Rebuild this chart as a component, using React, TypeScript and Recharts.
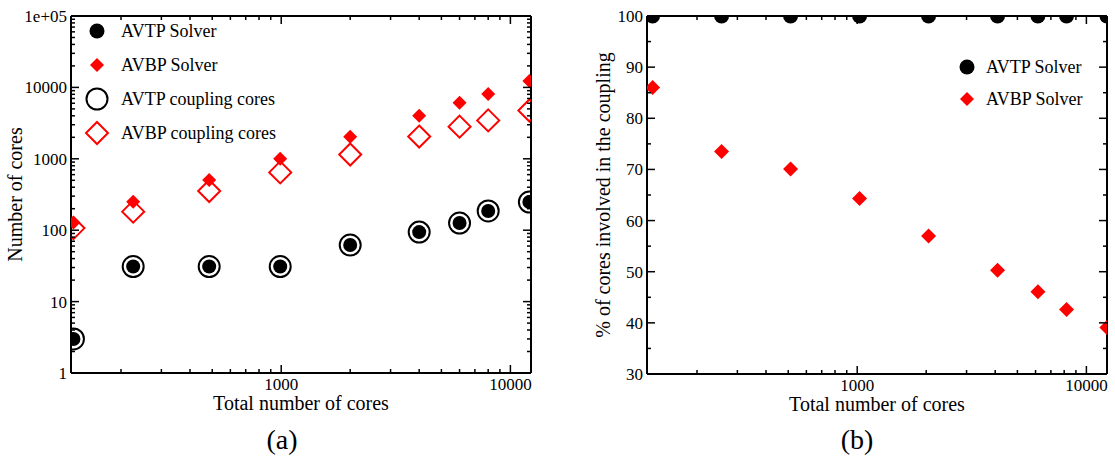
import { ScatterChart, Scatter, XAxis, YAxis, ReferenceLine, Legend } from 'recharts'

const FONT = '"Liberation Serif", "Times New Roman", serif'

// (a) cores vs total number of cores
const TOTAL_CORES_A = [124, 226, 485, 990, 2000, 4000, 6000, 8000, 12100]
const AVTP_SOLVER = [3, 31, 31, 31, 62, 94, 126, 186, 248]
const AVBP_SOLVER = [128, 250, 505, 1000, 2040, 4000, 6100, 8100, 12300]
const AVTP_COUPLING = [3, 31, 31, 31, 62, 94, 126, 186, 248]
const AVBP_COUPLING = [107, 182, 354, 645, 1150, 2050, 2820, 3450, 4750]

// (b) % of cores in the coupling
const TOTAL_CORES_B = [128, 256, 512, 1024, 2048, 4096, 6144, 8192, 12288]
const AVTP_PCT = [100, 100, 100, 100, 100, 100, 100, 100, 100]
const AVBP_PCT = [86, 73.5, 70.1, 64.3, 57, 50.3, 46.1, 42.6, 39.1]

const SERIES_ORDER = ['AVTP Solver', 'AVBP Solver', 'AVTP coupling cores', 'AVBP coupling cores']

const X_DOMAIN = [121, 12300]
const X_TICKS = [200, 300, 400, 500, 600, 700, 800, 900, 1000, 2000, 3000, 4000, 5000, 6000, 7000, 8000, 9000, 10000]
const X_MAJORS = [1000, 10000]
const Y_TICKS_A = [
  1, 2, 3, 4, 5, 6, 7, 8, 9,
  10, 20, 30, 40, 50, 60, 70, 80, 90,
  100, 200, 300, 400, 500, 600, 700, 800, 900,
  1000, 2000, 3000, 4000, 5000, 6000, 7000, 8000, 9000,
  10000, 20000, 30000, 40000, 50000, 60000, 70000, 80000, 90000,
  100000,
]
const Y_MAJORS_A = [1, 10, 100, 1000, 10000, 100000]
const Y_TICKS_B = [30, 35, 40, 45, 50, 55, 60, 65, 70, 75, 80, 85, 90, 95, 100]
const Y_MAJORS_B = [30, 40, 50, 60, 70, 80, 90, 100]

const zip = (xs: number[], ys: number[]) => xs.map((x, i) => ({ x, y: ys[i] }))

// layout of the two panels (plot boxes)
const H = 464
const TOP = 16
const A = { width: 560, left: 71, right: 531, bottom: 373 }
const B = { width: 555, left: 87, right: 547, bottom: 374 }
const Y_AXIS_W = 60
const X_AXIS_H = 40

const fmtA = (v: number) => (v === 100000 ? '1e+05' : String(v))

const makeXTick = (top: number) => (props: any) => {
  const { x, y, payload } = props
  const v = payload.value
  const major = X_MAJORS.includes(v)
  const len = major ? 8 : 4
  return (
    <g>
      <line x1={x} x2={x} y1={y} y2={y - len} stroke="#000" strokeWidth={1.5} />
      <line x1={x} x2={x} y1={top} y2={top + len} stroke="#000" strokeWidth={1.5} />
      {major && (
        <text x={x} y={y + 17} textAnchor="middle" fontSize={17} fontFamily={FONT} fill="#000">
          {v}
        </text>
      )}
    </g>
  )
}

const makeYTick = (right: number, majors: number[], fmt: (v: number) => string) => (props: any) => {
  const { x, y, payload } = props
  const v = payload.value
  const major = majors.includes(v)
  const len = major ? 8 : 4
  return (
    <g>
      <line x1={x} x2={x + len} y1={y} y2={y} stroke="#000" strokeWidth={1.5} />
      <line x1={right} x2={right - len} y1={y} y2={y} stroke="#000" strokeWidth={1.5} />
      {major && (
        <text x={x - 4} y={y + 6} textAnchor="end" fontSize={17} fontFamily={FONT} fill="#000">
          {fmt(v)}
        </text>
      )}
    </g>
  )
}

const xTitle = (text: string) => (props: any) => {
  const { x, y, width } = props.viewBox
  return (
    <text x={x + width / 2} y={y + 37} textAnchor="middle" fontSize={20} fontFamily={FONT} fill="#000">
      {text}
    </text>
  )
}

const yTitle = (text: string, cx: number) => (props: any) => {
  const { y, height } = props.viewBox
  const cy = y + height / 2
  return (
    <text x={cx} y={cy} transform={`rotate(-90, ${cx}, ${cy})`} textAnchor="middle" fontSize={20} fontFamily={FONT} fill="#000">
      {text}
    </text>
  )
}

// marker shapes
const filledCircle = (r: number) => (p: any) => <circle cx={p.cx} cy={p.cy} r={r} fill="#000" />
const openCircle = (r: number) => (p: any) => <circle cx={p.cx} cy={p.cy} r={r} fill="none" stroke="#000" strokeWidth={2} />
const diamondPts = (cx: number, cy: number, h: number) => `${cx},${cy - h} ${cx + h},${cy} ${cx},${cy + h} ${cx - h},${cy}`
const filledDiamond = (h: number) => (p: any) => <polygon points={diamondPts(p.cx, p.cy, h)} fill="#ff0000" />
const openDiamond = (h: number) => (p: any) => (
  <polygon points={diamondPts(p.cx, p.cy, h)} fill="none" stroke="#ff0000" strokeWidth={2} />
)

const LEGEND_ICONS: Record<string, (cx: number, cy: number) => any> = {
  'AVTP Solver': (cx, cy) => <circle cx={cx} cy={cy} r={7.5} fill="#000" />,
  'AVBP Solver': (cx, cy) => <polygon points={diamondPts(cx, cy, 7)} fill="#ff0000" />,
  'AVTP coupling cores': (cx, cy) => <circle cx={cx} cy={cy} r={10.5} fill="none" stroke="#000" strokeWidth={2} />,
  'AVBP coupling cores': (cx, cy) => <polygon points={diamondPts(cx, cy, 11)} fill="none" stroke="#ff0000" strokeWidth={2} />,
}

const makeLegend = (rowH: number, iconW: number) => (props: any) => {
  const items = [...(props.payload || [])].sort(
    (a: any, b: any) => SERIES_ORDER.indexOf(a.value) - SERIES_ORDER.indexOf(b.value)
  )
  return (
    <div style={{ fontFamily: FONT, fontSize: 18, color: '#000' }}>
      {items.map((entry: any) => (
        <div key={entry.value} style={{ display: 'flex', alignItems: 'center', height: rowH }}>
          <svg width={iconW} height={rowH} style={{ display: 'block' }}>
            {LEGEND_ICONS[entry.value]?.(iconW / 2, rowH / 2)}
          </svg>
          <span style={{ marginLeft: 2, whiteSpace: 'nowrap' }}>{entry.value}</span>
        </div>
      ))}
    </div>
  )
}

export default function App() {
  return (
    <div style={{ position: 'absolute', left: 0, top: 0, width: 1115, height: H, background: '#fff', fontFamily: FONT }}>
      <div style={{ position: 'absolute', left: 0, top: 0 }}>
        <ScatterChart
          width={A.width}
          height={H}
          margin={{ top: TOP, right: A.width - A.right, bottom: H - A.bottom - X_AXIS_H, left: A.left - Y_AXIS_W }}
        >
          <XAxis
            type="number"
            dataKey="x"
            scale="log"
            domain={X_DOMAIN}
            allowDataOverflow
            ticks={X_TICKS}
            interval={0}
            height={X_AXIS_H}
            tickSize={0}
            tickMargin={0}
            tickLine={false}
            tick={makeXTick(TOP)}
            axisLine={{ stroke: '#000', strokeWidth: 2 }}
            label={{ content: xTitle('Total number of cores') }}
          />
          <YAxis
            type="number"
            dataKey="y"
            scale="log"
            domain={[1, 100000]}
            allowDataOverflow
            ticks={Y_TICKS_A}
            interval={0}
            width={Y_AXIS_W}
            tickSize={0}
            tickMargin={0}
            tickLine={false}
            tick={makeYTick(A.right, Y_MAJORS_A, fmtA)}
            axisLine={{ stroke: '#000', strokeWidth: 2 }}
            label={{ content: yTitle('Number of cores', 22) }}
          />
          <ReferenceLine y={100000} stroke="#000" strokeWidth={2} />
          <ReferenceLine x={X_DOMAIN[1]} stroke="#000" strokeWidth={2} />
          <Legend
            layout="vertical"
            align="center"
            verticalAlign="middle"
            wrapperStyle={{ left: 75, top: 14, width: 260 }}
            content={makeLegend(34, 44)}
          />
          <Scatter name="AVTP Solver" data={zip(TOTAL_CORES_A, AVTP_SOLVER)} fill="#000" shape={filledCircle(7)} isAnimationActive={false} />
          <Scatter name="AVBP Solver" data={zip(TOTAL_CORES_A, AVBP_SOLVER)} fill="#ff0000" shape={filledDiamond(7)} isAnimationActive={false} />
          <Scatter name="AVTP coupling cores" data={zip(TOTAL_CORES_A, AVTP_COUPLING)} fill="#000" shape={openCircle(10.5)} isAnimationActive={false} />
          <Scatter name="AVBP coupling cores" data={zip(TOTAL_CORES_A, AVBP_COUPLING)} fill="#ff0000" shape={openDiamond(11)} isAnimationActive={false} />
        </ScatterChart>
      </div>

      <div style={{ position: 'absolute', left: 560, top: 0 }}>
        <ScatterChart
          width={B.width}
          height={H}
          margin={{ top: TOP, right: B.width - B.right, bottom: H - B.bottom - X_AXIS_H, left: B.left - Y_AXIS_W }}
        >
          <XAxis
            type="number"
            dataKey="x"
            scale="log"
            domain={X_DOMAIN}
            allowDataOverflow
            ticks={X_TICKS}
            interval={0}
            height={X_AXIS_H}
            tickSize={0}
            tickMargin={0}
            tickLine={false}
            tick={makeXTick(TOP)}
            axisLine={{ stroke: '#000', strokeWidth: 2 }}
            label={{ content: xTitle('Total number of cores') }}
          />
          <YAxis
            type="number"
            dataKey="y"
            domain={[30, 100]}
            allowDataOverflow
            ticks={Y_TICKS_B}
            interval={0}
            width={Y_AXIS_W}
            tickSize={0}
            tickMargin={0}
            tickLine={false}
            tick={makeYTick(B.right, Y_MAJORS_B, String)}
            axisLine={{ stroke: '#000', strokeWidth: 2 }}
            label={{ content: yTitle('% of cores involved in the coupling', 50) }}
          />
          <ReferenceLine y={100} stroke="#000" strokeWidth={2} />
          <ReferenceLine x={X_DOMAIN[1]} stroke="#000" strokeWidth={2} />
          <Legend
            layout="vertical"
            align="center"
            verticalAlign="middle"
            wrapperStyle={{ left: 390, top: 51, width: 160 }}
            content={makeLegend(32, 34)}
          />
          <Scatter name="AVTP Solver" data={zip(TOTAL_CORES_B, AVTP_PCT)} fill="#000" shape={filledCircle(7.5)} isAnimationActive={false} />
          <Scatter name="AVBP Solver" data={zip(TOTAL_CORES_B, AVBP_PCT)} fill="#ff0000" shape={filledDiamond(7.5)} isAnimationActive={false} />
        </ScatterChart>
      </div>

      <div style={{ position: 'absolute', left: 232, top: 422, width: 100, textAlign: 'center', fontSize: 28, lineHeight: '36px' }}>(a)</div>
      <div style={{ position: 'absolute', left: 807, top: 422, width: 100, textAlign: 'center', fontSize: 28, lineHeight: '36px' }}>(b)</div>
    </div>
  )
}
